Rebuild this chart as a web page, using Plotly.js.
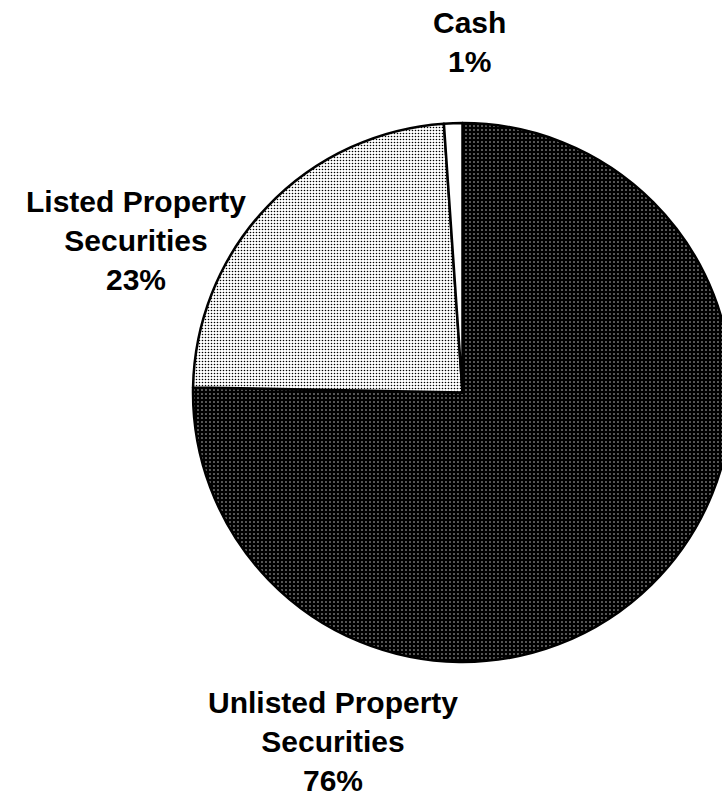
<!DOCTYPE html>
<html>
<head>
<meta charset="utf-8">
<script src="https://cdn.plot.ly/plotly-3.0.1.min.js"></script>
<style>
html,body{margin:0;padding:0;overflow:hidden;background:#fff;}
#chart{width:740px;height:794px;}
</style>
</head>
<body>
<div id="chart"></div>
<script>
// Data
const categories = ["Unlisted Property Securities", "Listed Property Securities", "Cash"];
const values = [75.3, 23.6, 1.1];
const labelLines = [
  ["Unlisted Property", "Securities", "76%"],
  ["Listed Property", "Securities", "23%"],
  ["Cash", "1%"]
];

const W = 740, H = 794;
const labelPos = [ // pixel centres of label blocks
  [333, 741],
  [136, 240],
  [469, 42]
];

const trace = {
  type: "pie",
  labels: categories,
  values: values,
  sort: false,
  direction: "clockwise",
  rotation: 0,
  textinfo: "none",
  hoverinfo: "skip",
  showlegend: false,
  domain: {x: [193 / W, 732 / W], y: [1 - 662 / H, 1 - 123 / H]},
  marker: {
    colors: ["#1a1a1a", "#d9d9d9", "#ffffff"],
    line: {color: "#000", width: 2.5},
    pattern: {
      shape: [".", ".", ""],
      bgcolor: ["#000000", "#ffffff", "#ffffff"],
      fgcolor: ["#cccccc", "#000000", "#ffffff"],
      size: [4, 3, 4],
      solidity: [0.12, 0.22, 0.1],
      fillmode: "replace"
    }
  }
};

const annotations = labelLines.map((lines, i) => ({
  text: lines.join("<br>"),
  x: labelPos[i][0] / W,
  y: 1 - labelPos[i][1] / H,
  xref: "paper", yref: "paper",
  xanchor: "center", yanchor: "middle",
  showarrow: false,
  borderpad: 0,
  font: {family: "Liberation Sans, Arial, sans-serif", size: 30, color: "#000", weight: "bold"},
  align: "center"
}));

const layout = {
  width: W, height: H,
  margin: {l: 0, r: 0, t: 0, b: 0},
  paper_bgcolor: "#fff",
  plot_bgcolor: "#fff",
  annotations: annotations
};

Plotly.newPlot("chart", [trace], layout, {staticPlot: true, displayModeBar: false});
</script>
</body>
</html>
